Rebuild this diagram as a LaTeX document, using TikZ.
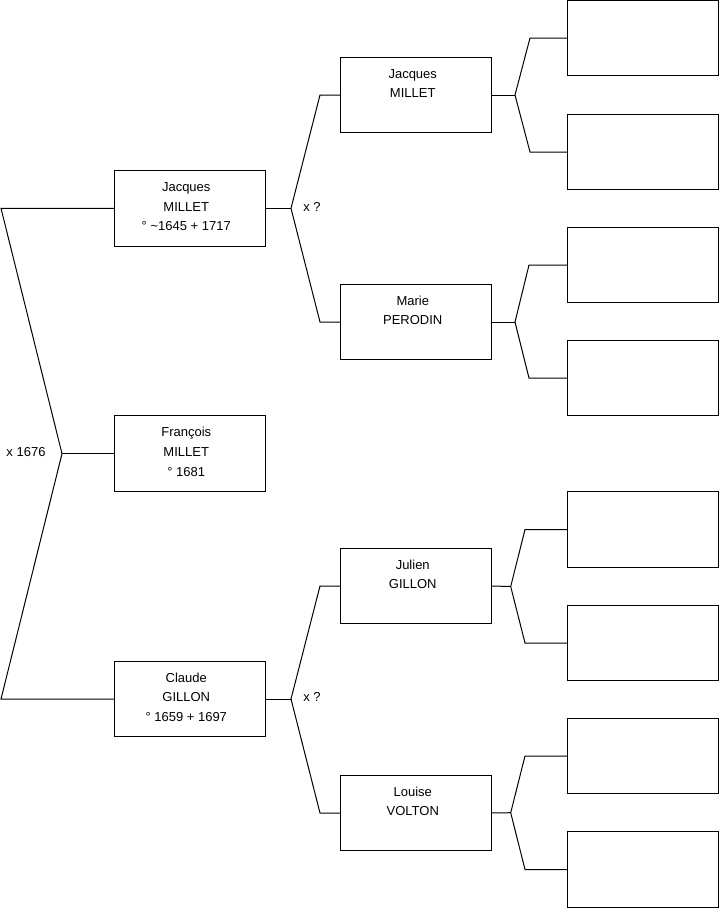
\documentclass[tikz,border=0pt]{standalone}
\usepackage{fontspec}
\setmainfont{Liberation Sans}
\begin{document}
\begin{tikzpicture}[x=1pt,y=-1pt,
  lnk/.style={draw=black,line width=1pt,line join=miter},
  person/.style={draw=black,line width=1pt,rectangle,inner sep=0pt,outer sep=0pt,
    font=\fontsize{13}{19.6}\selectfont},
  lbl/.style={inner sep=0pt,font=\fontsize{13}{15}\selectfont}]
\useasboundingbox (0,0) rectangle (719,908);
\newcommand{\pbox}[2]{\parbox[t][#1pt][t]{151pt}{\centering\rightskip=6.5pt plus 1fil\rule{0pt}{21pt}#2}}
% generation 1
\node[person] (jacq1) at (189.5,208.3) {\pbox{75.5}{Jacques\\MILLET\\° \textasciitilde1645 + 1717}};
\node[person] (franc) at (189.5,453.7) {\pbox{75.5}{François\\MILLET\\° 1681}};
\node[person] (claud) at (189.5,699) {\pbox{75.5}{Claude\\GILLON\\° 1659 + 1697}};
% generation 2
\node[person] (jacq2) at (416,95) {\pbox{75.5}{Jacques\\MILLET}};
\node[person] (marie) at (416,322) {\pbox{75.5}{Marie\\PERODIN}};
\node[person] (julie) at (416,586) {\pbox{75.5}{Julien\\GILLON}};
\node[person] (louis) at (416,813) {\pbox{75.5}{Louise\\VOLTON}};
% generation 3
\foreach \n/\y in {ga/38,gb/152,gc/265,gd/378,ge/529.5,gf/643,gg/756,gh/869.5}
  \node[person] (\n) at (642.75,\y) {\pbox{75.5}{}};
% left bracket
\coordinate (la) at (1,208.3);
\coordinate (lb) at (1,699);
\coordinate (l0) at (62,453.7);
\draw[lnk] (jacq1.west) -- (la) -- (l0) -- (lb) -- (claud.west);
\draw[lnk] (l0) -- (franc.west);
\node[lbl] (m0) at (26,452) {x 1676};
% gen1 -> gen2
\coordinate (ja) at (291,208.3);
\coordinate (jau) at (320,95);
\coordinate (jad) at (320,322);
\draw[lnk] (jacq1.east) -- (ja);
\draw[lnk] (jacq2.west) -- (jau) -- (ja) -- (jad) -- (marie.west);
\node[lbl] (m1) at (312,207) {x ?};
\coordinate (ca) at (291,699);
\coordinate (cau) at (320,586);
\coordinate (cad) at (320,813);
\draw[lnk] (claud.east) -- (ca);
\draw[lnk] (julie.west) -- (cau) -- (ca) -- (cad) -- (louis.west);
\node[lbl] (m2) at (312,697) {x ?};
% gen2 -> gen3
\coordinate (ka) at (515,95);
\draw[lnk] (jacq2.east) -- (ka);
\draw[lnk] (ga.west) -- (530,38) -- (ka) -- (530,152) -- (gb.west);
\coordinate (kb) at (515,322);
\draw[lnk] (marie.east) -- (kb);
\draw[lnk] (gc.west) -- (529,265) -- (kb) -- (529,378) -- (gd.west);
\coordinate (kc) at (510.7,586.5);
\draw[lnk] (julie.east) -- (kc);
\draw[lnk] (ge.west) -- (525,529.5) -- (kc) -- (525,643) -- (gf.west);
\coordinate (kd) at (510.7,812.7);
\draw[lnk] (louis.east) -- (kd);
\draw[lnk] (gg.west) -- (525,756) -- (kd) -- (525,869.5) -- (gh.west);
\end{tikzpicture}
\end{document}
